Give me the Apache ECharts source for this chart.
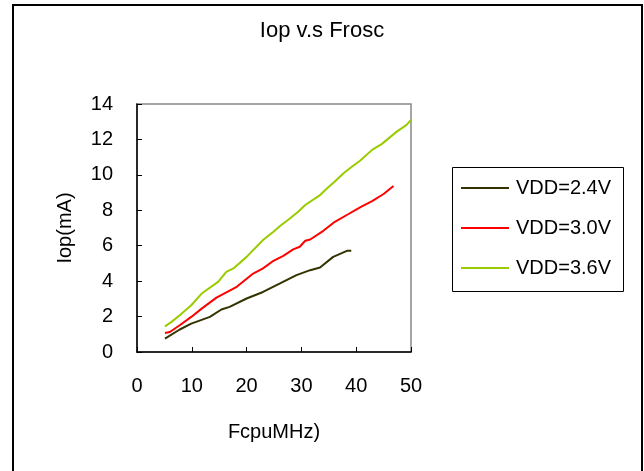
<!DOCTYPE html>
<html>
<head>
<meta charset="utf-8">
<script src="https://cdn.jsdelivr.net/npm/echarts@6/dist/echarts.min.js"></script>
<style>
html, body { margin: 0; padding: 0; background: #fff; }
#chart { width: 644px; height: 471px; }
</style>
</head>
<body>
<div id="chart"></div>
<script>
// values
const freq24 = [5.1, 7.8, 9.9, 13.3, 15.4, 16.9, 20.0, 23.0, 26.1, 29.1, 31.6, 33.4, 35.8, 38.3, 39.1];
const iop24 = [0.76, 1.27, 1.6, 1.98, 2.4, 2.55, 3.02, 3.39, 3.87, 4.34, 4.62, 4.77, 5.37, 5.71, 5.71];

const freq30 = [5.1, 6.0, 7.8, 9.9, 11.8, 14.5, 18.2, 21.2, 23.0, 24.9, 26.7, 28.5, 29.7, 30.7, 31.6, 34.0, 36.1, 38.6, 40.7, 42.9, 45.0, 46.8];
const iop30 = [1.07, 1.13, 1.51, 1.98, 2.45, 3.07, 3.68, 4.43, 4.72, 5.15, 5.43, 5.79, 5.94, 6.28, 6.35, 6.84, 7.35, 7.79, 8.17, 8.52, 8.92, 9.37];

const freq36 = [5.1, 6.3, 7.8, 9.9, 11.8, 14.8, 16.3, 17.6, 20.0, 23.0, 24.9, 26.1, 27.9, 29.4, 30.7, 33.4, 34.9, 36.1, 37.7, 39.2, 40.7, 42.9, 44.7, 47.4, 49.2, 50.0];
const iop36 = [1.45, 1.70, 2.08, 2.64, 3.30, 3.96, 4.52, 4.72, 5.37, 6.32, 6.79, 7.11, 7.54, 7.92, 8.30, 8.86, 9.30, 9.62, 10.09, 10.46, 10.80, 11.41, 11.75, 12.44, 12.82, 13.1];

const seriesNames = ['VDD=2.4V', 'VDD=3.0V', 'VDD=3.6V'];

function pairs(xs, ys) {
    return xs.map((x, i) => [x, ys[i]]);
}

const font = "'Liberation Sans', Arial, sans-serif";
const chart = echarts.init(document.getElementById('chart'));

const option = {
    backgroundColor: '#fff',
    animation: false,
    textStyle: { fontFamily: font, color: '#000' },
    title: {
        text: 'Iop v.s Frosc',
        left: 'center',
        top: 15,
        textStyle: { fontFamily: font, fontSize: 22, fontWeight: 'normal', color: '#000' }
    },
    color: ['#333300', '#ff0000', '#99cc00'],
    grid: {
        left: 137,
        right: 233,
        top: 104,
        bottom: 119,
        show: true,
        borderColor: '#888',
        borderWidth: 1.5
    },
    legend: {
        orient: 'vertical',
        left: 460,
        top: 178,
        padding: 0,
        itemWidth: 48,
        itemHeight: 20,
        itemGap: 20,
        data: seriesNames,
        // line only, no marker
        itemStyle: { color: 'rgba(0,0,0,0)', borderWidth: 0, opacity: 0 },
        lineStyle: { width: 2 },
        textStyle: { fontFamily: font, fontSize: 20, color: '#000', padding: [0, 0, 0, 2] }
    },
    xAxis: {
        type: 'value',
        min: 0,
        max: 50,
        interval: 10,
        name: 'FcpuMHz)',
        nameLocation: 'middle',
        nameGap: 70,
        nameTextStyle: { fontFamily: font, fontSize: 20, color: '#000' },
        axisLine: { lineStyle: { color: '#000', width: 1.5 } },
        axisTick: { inside: true, length: 5, lineStyle: { color: '#000' } },
        axisLabel: { fontFamily: font, fontSize: 20, color: '#000', margin: 24 },
        splitLine: { show: false }
    },
    yAxis: {
        type: 'value',
        min: 0,
        max: 14,
        interval: 2,
        name: 'Iop(mA)',
        nameLocation: 'middle',
        nameGap: 62,
        nameTextStyle: { fontFamily: font, fontSize: 20, color: '#000' },
        axisLine: { show: true, lineStyle: { color: '#000', width: 1.5 } },
        axisTick: { show: true, inside: true, length: 5, lineStyle: { color: '#000' } },
        axisLabel: { fontFamily: font, fontSize: 20, color: '#000', margin: 24 },
        splitLine: { show: false }
    },
    graphic: [
        {
            type: 'rect',
            shape: { x: 13, y: 5, width: 629, height: 480 },
            style: { fill: 'none', stroke: '#000', lineWidth: 2 },
            silent: true
        },
        {
            type: 'rect',
            shape: { x: 452.5, y: 167.5, width: 171, height: 124 },
            style: { fill: 'none', stroke: '#000', lineWidth: 1 },
            silent: true
        }
    ],
    series: [
        { name: seriesNames[0], type: 'line', symbol: 'none', lineStyle: { width: 2 }, data: pairs(freq24, iop24) },
        { name: seriesNames[1], type: 'line', symbol: 'none', lineStyle: { width: 2 }, data: pairs(freq30, iop30) },
        { name: seriesNames[2], type: 'line', symbol: 'none', lineStyle: { width: 2 }, data: pairs(freq36, iop36) }
    ]
};

chart.setOption(option);
window.addEventListener('resize', function () {
    chart.resize();
});
</script>
</body>
</html>
